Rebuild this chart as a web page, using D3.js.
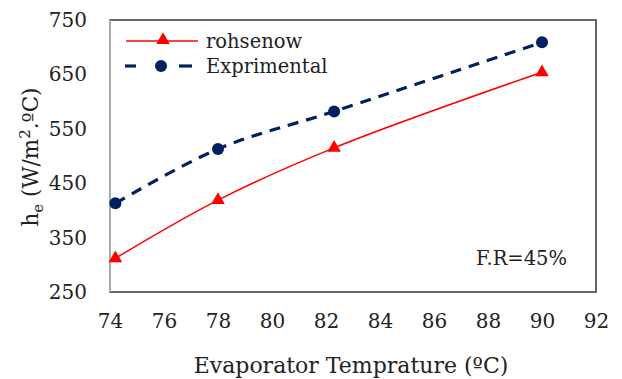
<!DOCTYPE html>
<html>
<head>
<meta charset="utf-8">
<script src="https://cdn.jsdelivr.net/npm/d3@7"></script>
<style>
  body { margin: 0; background: #fff; }
  svg text { font-family: "DejaVu Serif", serif; fill: #222; }
</style>
</head>
<body>
<svg id="chart" width="622" height="379"></svg>
<script>
// data
const tempX = [74.2, 78, 82.3, 90];
const rohsenow = [312, 419, 515, 654];
const exprimental = [413, 513, 582, 709];
const xTicks = [74, 76, 78, 80, 82, 84, 86, 88, 90, 92];
const yTicks = [250, 350, 450, 550, 650, 750];

const width = 622;
const height = 379;
const margin = { top: 20, right: 26, bottom: 87, left: 110 };

const svg = d3.select("#chart");

const x = d3.scaleLinear().domain([74, 92]).range([margin.left, width - margin.right]);
const y = d3.scaleLinear().domain([250, 750]).range([height - margin.bottom, margin.top]);

// plot frame
svg.append("rect")
  .attr("x", margin.left)
  .attr("y", margin.top)
  .attr("width", width - margin.left - margin.right)
  .attr("height", height - margin.top - margin.bottom)
  .attr("fill", "none")
  .attr("stroke", "#333")
  .attr("stroke-width", 1.5);

// left axis line is lighter
svg.append("line")
  .attr("x1", margin.left).attr("x2", margin.left)
  .attr("y1", margin.top).attr("y2", height - margin.bottom)
  .attr("stroke", "#c0c0c0")
  .attr("stroke-width", 1.5);

const xAxis = svg.append("g")
  .attr("transform", `translate(0,${height - margin.bottom})`)
  .call(d3.axisBottom(x).tickValues(xTicks).tickSize(0).tickPadding(22));
xAxis.attr("font-family", null);
xAxis.select(".domain").remove();
xAxis.selectAll("text")
  .style("font-size", "20px")
  .attr("fill", "#333");

const yAxis = svg.append("g")
  .attr("transform", `translate(${margin.left},0)`)
  .call(d3.axisLeft(y).tickValues(yTicks).tickSize(0).tickPadding(23));
yAxis.attr("font-family", null);
yAxis.select(".domain").remove();
yAxis.selectAll("text")
  .style("font-size", "20px")
  .attr("fill", "#333");

// axis titles
svg.append("text")
  .attr("x", 351)
  .attr("y", 373)
  .attr("text-anchor", "middle")
  .style("font-size", "22px")
  .text("Evaporator Temprature (ºC)");

const yLabel = svg.append("text")
  .attr("transform", `translate(38,157) rotate(-90)`)
  .attr("text-anchor", "middle")
  .style("font-size", "21.5px");
yLabel.append("tspan").text("h");
yLabel.append("tspan").attr("dy", 5).style("font-size", "15px").text("e");
yLabel.append("tspan").attr("dy", -5).text(" (W/m");
yLabel.append("tspan").attr("dy", -8).style("font-size", "15px").text("2");
yLabel.append("tspan").attr("dy", 8).text(".ºC)");

// lines
const line = (vals) => d3.line()
  .x((d, i) => x(tempX[i]))
  .y((d) => y(d))
  .curve(d3.curveCatmullRom.alpha(0.5))(vals);

svg.append("path")
  .attr("d", line(exprimental))
  .attr("fill", "none")
  .attr("stroke", "#002060")
  .attr("stroke-width", 3.2)
  .attr("stroke-dasharray", "11,8");

svg.append("path")
  .attr("d", line(rohsenow))
  .attr("fill", "none")
  .attr("stroke", "#ff0000")
  .attr("stroke-width", 1.5);

const tri = d3.symbol().type(d3.symbolTriangle).size(80);

svg.append("g").selectAll("circle")
  .data(exprimental)
  .join("circle")
  .attr("cx", (d, i) => x(tempX[i]))
  .attr("cy", (d) => y(d))
  .attr("r", 6)
  .attr("fill", "#002060");

svg.append("g").selectAll("path")
  .data(rohsenow)
  .join("path")
  .attr("d", tri)
  .attr("transform", (d, i) => `translate(${x(tempX[i])},${y(d)})`)
  .attr("fill", "#ff0000");

// legend
const legend = svg.append("g");
legend.append("line")
  .attr("x1", 126).attr("x2", 198).attr("y1", 41).attr("y2", 41)
  .attr("stroke", "#ff0000").attr("stroke-width", 1.5);
legend.append("path")
  .attr("d", tri)
  .attr("transform", "translate(163,40)")
  .attr("fill", "#ff0000");
legend.append("text")
  .attr("x", 206).attr("y", 48)
  .style("font-size", "19.5px")
  .text("rohsenow");

[[125, 136], [179, 192]].forEach(([a, b]) => {
  legend.append("line")
    .attr("x1", a).attr("x2", b).attr("y1", 66).attr("y2", 66)
    .attr("stroke", "#002060").attr("stroke-width", 3.2);
});
legend.append("circle")
  .attr("cx", 161).attr("cy", 66).attr("r", 6)
  .attr("fill", "#002060");
legend.append("text")
  .attr("x", 206).attr("y", 73)
  .style("font-size", "19.5px")
  .text("Exprimental");

svg.append("text")
  .attr("x", 567).attr("y", 265)
  .attr("text-anchor", "end")
  .style("font-size", "19.5px")
  .text("F.R=45%");
</script>
</body>
</html>
